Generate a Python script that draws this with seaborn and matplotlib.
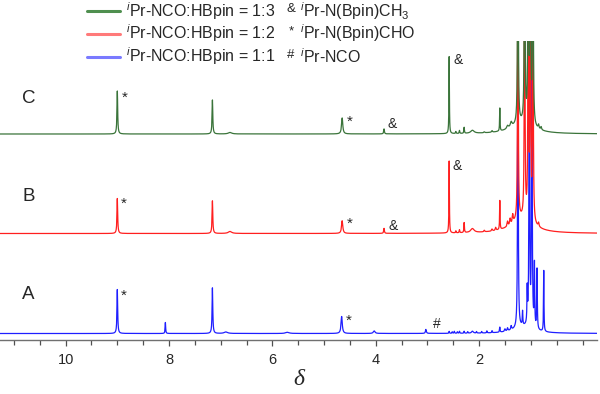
import numpy as np
import pandas as pd
import matplotlib
matplotlib.use("Agg")
import matplotlib.pyplot as plt
from matplotlib.lines import Line2D
from matplotlib.ticker import FixedLocator, MultipleLocator
import seaborn as sns

# ---------------- data ----------------
series_labels = [r"$^{i}$Pr-NCO:HBpin = 1:3",
                 r"$^{i}$Pr-NCO:HBpin = 1:2",
                 r"$^{i}$Pr-NCO:HBpin = 1:1"]
spectrum_names = ["C", "B", "A"]
species_marks = ["&", "*", "#"]
species_labels = [r"$^{i}$Pr-N(Bpin)CH$_3$",
                  r"$^{i}$Pr-N(Bpin)CHO",
                  r"$^{i}$Pr-NCO"]
xtick_values = [10, 8, 6, 4, 2]

# peak lists: chemical shift (ppm), height, half width (ppm)
C_ppm    = [9.00, 7.16, 6.82, 4.65, 3.84, 2.58, 2.45, 2.38, 2.29, 2.13, 1.60, 1.45, 1.38, 1.25, 1.12, 1.05, 1.01, 0.96, 1.18, 0.85, 0.80, 1.90, 1.75]
C_height = [43.0, 34.0, 1.5, 16.0, 5.0, 77.0, 2.0, 3.0, 6.0, 3.0, 23.0, 3.0, 5.0, 400, 400, 400, 400, 400, 10.0, 4.0, 3.0, 1.0, 1.5]
C_width  = [0.008, 0.008, 0.04, 0.014, 0.008, 0.005, 0.006, 0.006, 0.006, 0.04, 0.005, 0.02, 0.02, 0.006, 0.006, 0.006, 0.006, 0.006, 0.25, 0.01, 0.01, 0.01, 0.01]

B_ppm    = [9.00, 7.16, 6.82, 4.65, 3.84, 2.58, 2.45, 2.38, 2.29, 2.13, 1.60, 1.45, 1.40, 1.35, 1.25, 1.12, 1.05, 1.01, 0.96, 1.18, 0.85, 1.90, 1.75, 1.68]
B_height = [35.0, 32.6, 2.0, 12.7, 5.0, 72.0, 2.0, 3.0, 10.0, 4.0, 29.0, 5.0, 6.0, 8.0, 400, 400, 400, 400, 400, 14.0, 4.0, 1.5, 2.0, 3.0]
B_width  = [0.008, 0.008, 0.04, 0.014, 0.008, 0.005, 0.006, 0.006, 0.006, 0.04, 0.005, 0.01, 0.01, 0.01, 0.006, 0.006, 0.006, 0.006, 0.006, 0.25, 0.01, 0.01, 0.01, 0.01]

A_ppm    = [9.00, 8.07, 7.16, 6.90, 5.71, 4.66, 4.03, 3.03, 2.58, 2.52, 2.48, 2.42, 2.38, 2.29, 2.22, 2.13, 2.05, 1.95, 1.85, 1.75, 1.60, 1.50, 1.45, 1.38, 1.25, 1.16, 1.07, 1.03, 0.98, 0.93, 0.88, 0.75, 1.15]
A_height = [44.0, 11.0, 45.6, 1.5, 1.2, 17.0, 2.5, 4.0, 2.0, 1.5, 2.0, 1.5, 2.0, 2.0, 1.5, 2.0, 1.5, 1.5, 2.0, 2.0, 5.0, 2.5, 3.0, 4.0, 400, 14.0, 34.0, 400, 400, 62.0, 60.0, 61.0, 6.0]
A_width  = [0.008, 0.006, 0.008, 0.04, 0.04, 0.014, 0.02, 0.01, 0.006, 0.006, 0.006, 0.006, 0.006, 0.006, 0.006, 0.02, 0.006, 0.006, 0.006, 0.006, 0.006, 0.01, 0.01, 0.01, 0.006, 0.006, 0.006, 0.006, 0.006, 0.006, 0.006, 0.005, 0.22]

# annotation marks: (spectrum, mark, ppm, height above spectrum baseline)
mark_spectrum = ["C", "C", "C", "C", "B", "B", "B", "B", "A", "A", "A"]
mark_symbol   = ["*", "*", "&", "&", "*", "*", "&", "&", "*", "*", "#"]
mark_ppm      = [8.86, 4.50, 3.68, 2.41, 8.87, 4.51, 3.66, 2.43, 8.88, 4.52, 2.82]
mark_height   = [36.0, 12.0, 10.0, 74.0, 30.0, 10.0, 8.0, 67.0, 38.0, 13.0, 9.0]

# ---------------- styling ----------------
baselines = {"C": 206.0, "B": 106.5, "A": 6.5}
line_colors = {"C": "#3a743a", "B": "#ff1f1f", "A": "#1f1fff"}
legend_colors = ["#4f8f4f", "#ff7a7a", "#7a7aff"]

sns.set_style("ticks")
plt.rcParams["font.family"] = ["Liberation Sans", "DejaVu Sans"]
plt.rcParams["mathtext.fontset"] = "custom"
plt.rcParams["mathtext.rm"] = "Liberation Sans"
plt.rcParams["mathtext.it"] = "Liberation Sans:italic"
plt.rcParams["mathtext.bf"] = "Liberation Sans:bold"

# ---------------- build spectra ----------------
grid = np.round(np.arange(-0.40, 11.40, 0.001), 3)
peak_tables = {"C": (C_ppm, C_height, C_width),
               "B": (B_ppm, B_height, B_width),
               "A": (A_ppm, A_height, A_width)}
frames = []
for name in ["A", "B", "C"]:
    ppm, h, w = peak_tables[name]
    y = np.zeros_like(grid)
    for p0, h0, w0 in zip(ppm, h, w):
        y += h0 * w0 ** 2 / ((grid - p0) ** 2 + w0 ** 2)
    frames.append(pd.DataFrame({"ppm": grid, "intensity": y + baselines[name], "sample": name}))
df = pd.concat(frames, ignore_index=True)

fig = plt.figure(figsize=(6.0, 3.94), dpi=100)
ax = fig.add_axes([0.0, 54 / 394, 597 / 600, 299 / 394])

sns.lineplot(data=df, x="ppm", y="intensity", hue="sample", hue_order=["A", "B", "C"],
             palette=line_colors, estimator=None, sort=False, linewidth=0.9,
             legend=False, ax=ax)

ax.set_xlim(11.27, -0.28)
ax.set_ylim(0, 299)
ax.xaxis.set_major_locator(FixedLocator(xtick_values))
ax.set_xticklabels([str(v) for v in xtick_values])
ax.xaxis.set_minor_locator(MultipleLocator(0.5))
ax.set_yticks([])
ax.set_ylabel("")
for s in ["left", "top", "right"]:
    ax.spines[s].set_visible(False)
ax.spines["bottom"].set_color("#707070")
ax.spines["bottom"].set_linewidth(1.0)
ax.tick_params(axis="x", which="major", direction="out", length=4, width=0.9,
               color="#505050", labelsize=10.5, pad=5)
ax.tick_params(axis="x", which="minor", direction="out", length=3.5, width=0.9,
               color="#505050")
ax.set_xlabel("δ", fontsize=17, fontstyle="italic", family="Liberation Serif", labelpad=2)
ax.patch.set_alpha(0)

# spectrum letters
letter_y = {"C": 340 - 98.5, "B": 340 - 196.5, "A": 340 - 294.5}
for name in spectrum_names:
    ax.text(10.72, letter_y[name], name, fontsize=13.5, ha="center", va="center")

# peak marks
for sp, sym, p, hh in zip(mark_spectrum, mark_symbol, mark_ppm, mark_height):
    ax.text(p, baselines[sp] + hh, sym, fontsize=10 if sym != "*" else 11,
            ha="center", va="center")

# legend (left block)
leg_y = [11, 33.5, 56.5]
for lab, col, yy in zip(series_labels, legend_colors, leg_y):
    yf = 1 - yy / 394
    fig.add_artist(Line2D([87 / 600, 120 / 600], [yf, yf], color=col, lw=2.2,
                          transform=fig.transFigure))
    fig.text(126 / 600, yf, lab, fontsize=11.5, ha="left", va="center")

# legend (right block)
for sym, lab, yy in zip(species_marks, species_labels, leg_y):
    yf = 1 - yy / 394
    fig.text(291 / 600, yf + 0.005, sym, fontsize=9.5, ha="center", va="center")
    fig.text(300 / 600, yf, lab, fontsize=11.5, ha="left", va="center")

fig.savefig("out.png", dpi=100)
